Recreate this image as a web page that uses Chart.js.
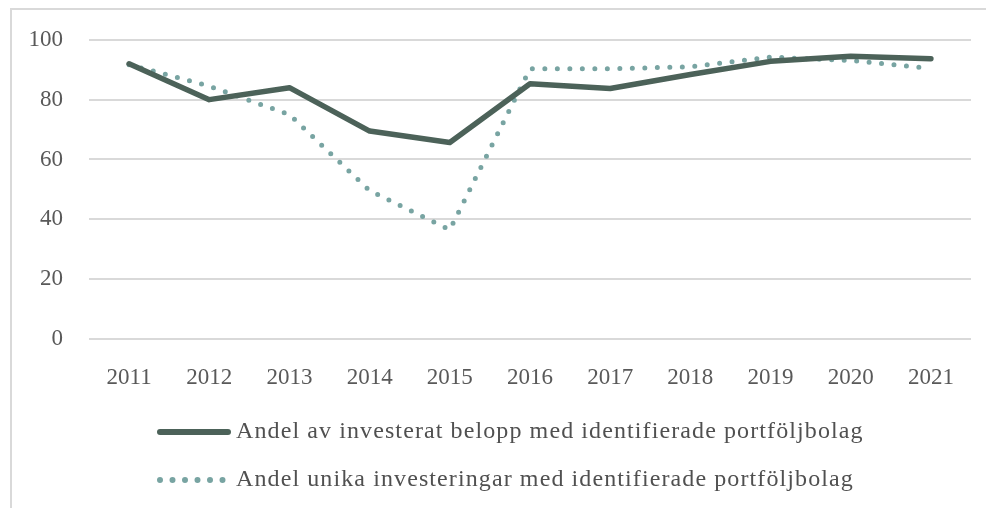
<!DOCTYPE html>
<html>
<head>
<meta charset="utf-8">
<script src="https://cdn.jsdelivr.net/npm/chart.js@4"></script>
<style>
  html, body { margin: 0; padding: 0; background: #fff; }
  #wrap { position: relative; width: 986px; height: 508px; overflow: hidden; }
  #frame { position: absolute; left: 10px; top: 8px; width: 1000px; height: 520px;
           border-left: 2px solid #d9d9d9; border-top: 2px solid #d9d9d9; }
  canvas { position: absolute; left: 0; top: 0; }
</style>
</head>
<body>
<div id="wrap">
  <div id="frame"></div>
  <canvas id="chart" width="986" height="508"></canvas>
</div>
<script>
const years = ["2011", "2012", "2013", "2014", "2015", "2016", "2017", "2018", "2019", "2020", "2021"];
const belopp = [92, 80, 84, 69.5, 65.7, 85.3, 83.7, 88.4, 92.8, 94.5, 93.7];
const unika = [91.7, 84.5, 75, 49.6, 36.5, 90.3, 90.3, 91, 94.2, 93.1, 90.4];
const seriesNames = [
    "Andel av investerat belopp med identifierade portföljbolag",
    "Andel unika investeringar med identifierade portföljbolag"
];

const solidColor = "#4c6259";
const dotColor = "#78a4a2";
const font = "'Liberation Serif', 'DejaVu Serif', serif";

// legend drawn by hand so the dotted sample looks like the reference
const legendPlugin = {
    id: "bottomLegend",
    afterDraw(chart) {
        const ctx = chart.ctx;
        const items = [
            { text: seriesNames[0], color: solidColor, dash: [], y: 432 },
            { text: seriesNames[1], color: dotColor, dash: [0, 12.5], y: 480 }
        ];
        ctx.save();
        ctx.font = "24px " + font;
        ctx.letterSpacing = "1.1px";
        ctx.textBaseline = "middle";
        items.forEach(item => {
            ctx.beginPath();
            ctx.lineWidth = 6;
            ctx.lineCap = "round";
            ctx.strokeStyle = item.color;
            ctx.setLineDash(item.dash);
            ctx.moveTo(160, item.y);
            ctx.lineTo(228, item.y);
            ctx.stroke();
            ctx.setLineDash([]);
            ctx.fillStyle = "#505050";
            ctx.fillText(item.text, 236, item.y);
        });
        ctx.restore();
    }
};

new Chart(document.getElementById("chart"), {
    type: "line",
    data: {
        labels: years,
        datasets: [
            {
                label: seriesNames[0],
                data: belopp,
                borderColor: solidColor,
                borderWidth: 5.5,
                pointRadius: 0,
                borderCapStyle: "round",
                borderJoinStyle: "round",
                tension: 0
            },
            {
                label: seriesNames[1],
                data: unika,
                borderColor: dotColor,
                borderWidth: 5,
                borderDash: [0, 12.5],
                borderCapStyle: "round",
                pointRadius: 0,
                tension: 0
            }
        ]
    },
    options: {
        responsive: false,
        animation: false,
        layout: { padding: { top: 38, right: 15, left: 0, bottom: 0 } },
        plugins: {
            legend: { display: false },
            tooltip: { enabled: false }
        },
        scales: {
            x: {
                offset: true,
                grid: { display: false, drawTicks: false },
                border: { display: false },
                ticks: {
                    padding: 25,
                    color: "#595959",
                    font: { family: font, size: 23 },
                    maxRotation: 0
                },
                afterFit(scale) { scale.height = 169; }
            },
            y: {
                min: 0,
                max: 100,
                grid: { color: "#d9d9d9", lineWidth: 2, drawTicks: false },
                border: { display: false },
                ticks: {
                    stepSize: 20,
                    padding: 26,
                    color: "#595959",
                    font: { family: font, size: 23 }
                },
                afterFit(scale) { scale.width = 89; }
            }
        }
    },
    plugins: [legendPlugin]
});
</script>
</body>
</html>
